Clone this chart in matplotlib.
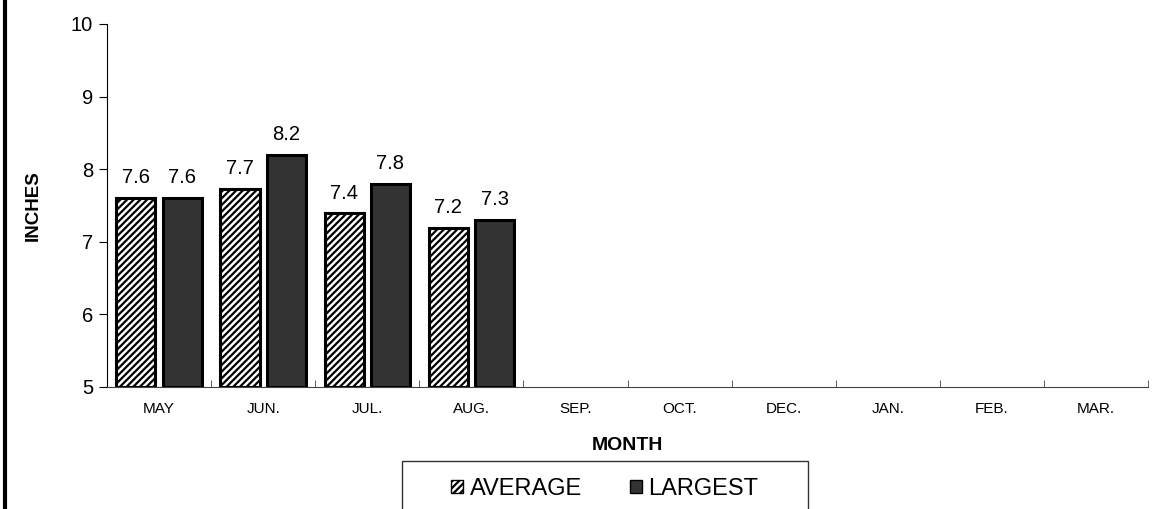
import matplotlib.pyplot as plt
import matplotlib.lines as mlines
from matplotlib.patches import Patch, Rectangle
import numpy as np

plt.rcParams['font.family'] = ['Liberation Sans', 'DejaVu Sans']
plt.rcParams['hatch.color'] = '#8c8c8c'
plt.rcParams['hatch.linewidth'] = 1.6

months = ['MAY', 'JUN.', 'JUL.', 'AUG.', 'SEP.', 'OCT.', 'DEC.', 'JAN.', 'FEB.', 'MAR.']
average = [7.6, 7.73, 7.39, 7.19]
largest = [7.6, 8.2, 7.8, 7.3]

fig = plt.figure(figsize=(11.54, 5.09), dpi=100)
ax = fig.add_axes([107 / 1154, 1 - 387 / 509, 1041 / 1154, 363 / 509])

x = np.arange(len(average))
w = 0.375
b1 = ax.bar(x - 0.035 - w / 2, np.array(average) - 5, w, bottom=5, color='white',
            edgecolor='black', linewidth=2.2, hatch='/////')
b2 = ax.bar(x + 0.035 + w / 2, np.array(largest) - 5, w, bottom=5, color='#333333',
            edgecolor='black', linewidth=2.2)
for bars, vals in [(b1, average), (b2, largest)]:
    for r, v in zip(bars, vals):
        ax.text(r.get_x() + r.get_width() / 2, v + 0.15, f'{v:.1f}', ha='center',
                va='bottom', fontsize=14.5)

ax.set_xlim(-0.5, len(months) - 0.5)
ax.set_ylim(5, 10)
ax.set_yticks([5, 6, 7, 8, 9, 10])
ax.set_xticks(np.arange(len(months)))
ax.set_xticklabels(months, fontsize=11)
ax.set_xticks(np.arange(len(months) + 1) - 0.5, minor=True)
ax.tick_params(axis='x', which='major', length=0, pad=11)
ax.tick_params(axis='x', which='minor', length=5, direction='in', color='#444444')
ax.tick_params(axis='y', labelsize=14.5, length=6, pad=4)
for s in ['top', 'right']:
    ax.spines[s].set_visible(False)
ax.spines['bottom'].set_color('#444444')
ax.spines['left'].set_color('black')
ax.set_ylabel('INCHES', fontsize=13.5, fontweight='bold', labelpad=21)
ax.set_xlabel('MONTH', fontsize=14, fontweight='bold', labelpad=15)

# legend frame box, running past the bottom edge
fig.add_artist(Rectangle((402 / 1154, -0.05), 406 / 1154, 0.05 + 48 / 509,
                         transform=fig.transFigure, facecolor='white',
                         edgecolor='#333333', linewidth=1))
handles = [Patch(facecolor='white', edgecolor='black', hatch='/////', label='AVERAGE'),
           Patch(facecolor='#333333', edgecolor='black', label='LARGEST')]
fig.legend(handles=handles, loc='center', bbox_to_anchor=(605 / 1154, 1 - 489 / 509),
           ncol=2, fontsize=17, frameon=False,
           handlelength=0.5, handleheight=0.5, handletextpad=0.3,
           columnspacing=2.0)

fig.add_artist(mlines.Line2D([5 / 1154, 5 / 1154], [0, 1], color='black', linewidth=3))

fig.savefig('out.png')
